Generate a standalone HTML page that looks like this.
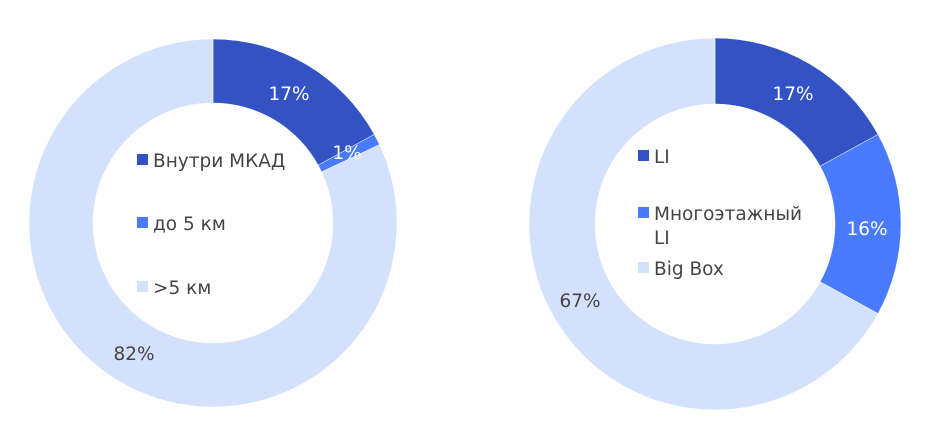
<!DOCTYPE html>
<html><head><meta charset="utf-8"><style>
body{margin:0;background:#fff;width:952px;height:440px;overflow:hidden}
svg text{font-family:"DejaVu Sans","Liberation Sans",sans-serif;font-size:18.5px}
</style></head><body>
<svg id="s" width="952" height="440" xmlns="http://www.w3.org/2000/svg">
<g id="g"></g>
<text x="289" y="100" fill="#fff" text-anchor="middle">17%</text>
<text x="347" y="159" fill="#fff" text-anchor="middle">1%</text>
<text x="134" y="360" fill="#444" text-anchor="middle">82%</text>
<text x="793" y="100" fill="#fff" text-anchor="middle">17%</text>
<text x="867" y="235" fill="#fff" text-anchor="middle">16%</text>
<text x="580" y="307" fill="#444" text-anchor="middle">67%</text>
<rect x="137" y="154" width="11" height="11" fill="#3352c4"/><text x="153" y="167" fill="#444">Внутри МКАД</text>
<rect x="137" y="217" width="11" height="11" fill="#4a7bff"/><text x="153" y="230" fill="#444">до 5 км</text>
<rect x="137" y="281" width="11" height="11" fill="#d4e1fd"/><text x="153" y="294" fill="#444">&gt;5 км</text>
<rect x="638" y="150" width="11" height="11" fill="#3352c4"/><text x="654" y="163" fill="#444">LI</text>
<rect x="638" y="207" width="11" height="11" fill="#4a7bff"/><text x="654" y="220" fill="#444">Многоэтажный</text><text x="654" y="244" fill="#444">LI</text>
<rect x="638" y="262" width="11" height="11" fill="#d4e1fd"/><text x="654" y="275" fill="#444">Big Box</text>
</svg>
<script>
function arc(cx,cy,R,r,a0,a1,c){
 function p(rad,a){a=a*Math.PI/180;return [cx+rad*Math.sin(a),cy-rad*Math.cos(a)];}
 var l=(a1-a0)>180?1:0,A=p(R,a0),B=p(R,a1),C=p(r,a1),D=p(r,a0);
 return '<path fill="'+c+'" stroke="#fff" stroke-width="0.5" d="M'+A+' A'+R+' '+R+' 0 '+l+' 1 '+B+' L'+C+' A'+r+' '+r+' 0 '+l+' 0 '+D+' Z"/>';
}
var h='';
h+=arc(213,223,184,120,0,61.2,'#3352c4');
h+=arc(213,223,184,120,61.2,64.8,'#4a7bff');
h+=arc(213,223,184,120,64.8,359.99,'#d4e1fd');
h+=arc(715,224,186,120,0,61.2,'#3352c4');
h+=arc(715,224,186,120,61.2,118.8,'#4a7bff');
h+=arc(715,224,186,120,118.8,359.99,'#d4e1fd');
document.getElementById('g').innerHTML=h;
</script>
</body></html>
